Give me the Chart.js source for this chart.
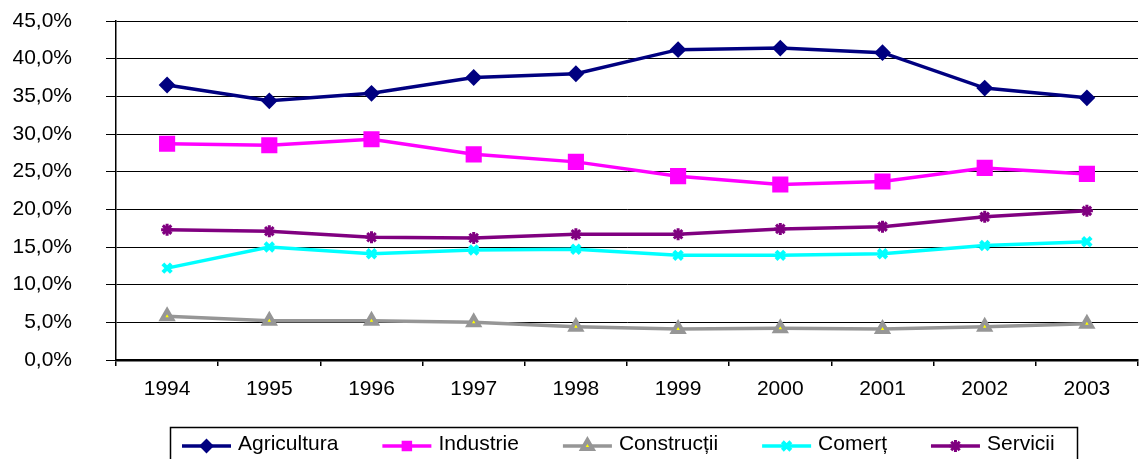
<!DOCTYPE html>
<html>
<head>
<meta charset="utf-8">
<script src="https://cdn.jsdelivr.net/npm/chart.js@4/dist/chart.umd.min.js"></script>
<style>
  html, body { margin: 0; padding: 0; background: #fff; overflow: hidden; }
  #wrap { width: 1150px; height: 459px; position: relative; }
</style>
</head>
<body>
<div id="wrap"><canvas id="grafic"></canvas></div>
<script>
// --- date ---
const ani = ['1994', '1995', '1996', '1997', '1998', '1999', '2000', '2001', '2002', '2003'];
const agricultura = [36.5, 34.4, 35.4, 37.5, 38.0, 41.2, 41.4, 40.8, 36.1, 34.8];
const industrie   = [28.7, 28.5, 29.3, 27.3, 26.3, 24.4, 23.3, 23.7, 25.5, 24.7];
const constructii = [5.8, 5.2, 5.2, 5.0, 4.4, 4.1, 4.2, 4.1, 4.4, 4.8];
const comert      = [12.2, 15.0, 14.1, 14.6, 14.7, 13.9, 13.9, 14.1, 15.2, 15.7];
const servicii    = [17.3, 17.1, 16.3, 16.2, 16.7, 16.7, 17.4, 17.7, 19.0, 19.8];
const yTicks = [0, 5, 10, 15, 20, 25, 30, 35, 40, 45];

const FONT = '"Liberation Sans", Arial, sans-serif';

function serie(label, data, color, style, radius, fill) {
    return {
        label: label,
        data: data,
        borderColor: color,
        backgroundColor: fill || color,
        borderWidth: 3.5,
        pointStyle: style,
        pointRadius: radius,
        pointBorderColor: color,
        pointBackgroundColor: fill || color,
        pointBorderWidth: 2,
        tension: 0
    };
}

const seturi = [
    serie('Agricultura', agricultura, '#000080', 'rectRot', 7),
    serie('Industrie', industrie, '#ff00ff', 'rect', 10),
    serie('Construcții', constructii, '#969696', 'triangle', 6, '#ffff00'),
    serie('Comerț', comert, '#00ffff', 'crossRot', 6),
    serie('Servicii', servicii, '#800080', 'star', 6)
];
seturi[2].pointBorderWidth = 4;
seturi[3].pointBorderWidth = 4;
seturi[4].pointBorderWidth = 3;

// legenda cu chenar, desenata jos
const legendaPlugin = {
    id: 'legendaJos',
    afterDraw(chart) {
        const ctx = chart.ctx;
        ctx.save();
        ctx.strokeStyle = '#000';
        ctx.lineWidth = 1.5;
        ctx.strokeRect(170.5, 427.5, 907, 50);

        ctx.font = '21px ' + FONT;
        ctx.textBaseline = 'middle';
        ctx.fillStyle = '#000';
        let x = 182;
        const y = 446;
        chart.data.datasets.forEach(ds => {
            ctx.strokeStyle = ds.borderColor;
            ctx.lineWidth = 3.5;
            ctx.beginPath();
            ctx.moveTo(x, y);
            ctx.lineTo(x + 49, y);
            ctx.stroke();
            if (Chart.helpers && Chart.helpers.drawPoint) {
                ctx.fillStyle = ds.pointBackgroundColor;
                ctx.strokeStyle = ds.pointBorderColor;
                ctx.lineWidth = ds.pointBorderWidth;
                Chart.helpers.drawPoint(ctx, {
                    pointStyle: ds.pointStyle,
                    radius: Math.min(ds.pointRadius, 6),
                    rotation: 0,
                    borderWidth: ds.pointBorderWidth
                }, x + 24.5, y);
            }
            ctx.fillStyle = '#000';
            ctx.fillText(ds.label, x + 56, y - 2);
            x += 56 + ctx.measureText(ds.label).width + 44;
        });
        ctx.restore();
    }
};

new Chart(document.getElementById('grafic'), {
    type: 'line',
    data: { labels: ani, datasets: seturi },
    options: {
        responsive: true,
        maintainAspectRatio: false,
        animation: false,
        layout: { padding: { top: 0, right: 1, left: 0, bottom: 0 } },
        plugins: {
            legend: { display: false },
            tooltip: { enabled: false }
        },
        scales: {
            x: {
                offset: true,
                grid: {
                    offset: true,
                    drawOnChartArea: false,
                    drawTicks: true,
                    tickLength: 6,
                    color: '#000',
                    lineWidth: 1.5
                },
                border: { display: true, color: '#000', width: 2.5 },
                ticks: {
                    color: '#000',
                    font: { family: FONT, size: 21 },
                    padding: 11,
                    maxRotation: 0,
                    autoSkip: false
                },
                afterFit(scale) { scale.height = 99; }
            },
            y: {
                min: 0,
                max: 45,
                afterBuildTicks(scale) { scale.ticks = yTicks.map(v => ({ value: v })); },
                grid: {
                    color: '#000',
                    lineWidth: 1,
                    drawTicks: true,
                    tickLength: 10
                },
                border: { display: true, color: '#000', width: 1.5 },
                ticks: {
                    color: '#000',
                    font: { family: FONT, size: 21 },
                    padding: 34,
                    callback: v => v.toFixed(1).replace('.', ',') + '%'
                },
                afterFit(scale) {
                    scale.width = 116;
                    scale.paddingTop = 21;
                    scale.paddingBottom = 0;
                }
            }
        }
    },
    plugins: [legendaPlugin]
});
</script>
</body>
</html>
